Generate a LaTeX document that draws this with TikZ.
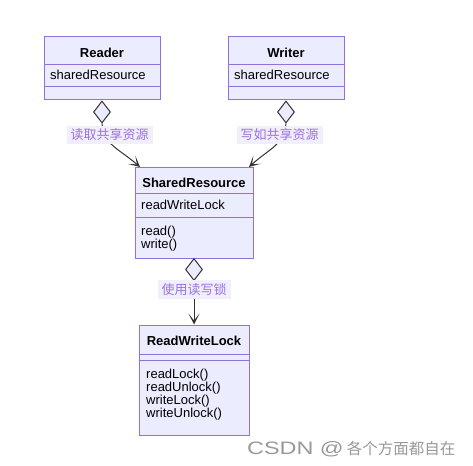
\documentclass[tikz,border=0pt]{standalone}
\usepackage{fontspec}
\setmainfont{Liberation Sans}
\newfontfamily\cjk{Noto Sans CJK SC}
\usetikzlibrary{shapes.geometric,arrows.meta,calc}
\definecolor{boxfill}{HTML}{ECECFF}
\definecolor{boxline}{HTML}{9370DB}
\definecolor{edgeline}{HTML}{333333}
\definecolor{lblfill}{HTML}{F1EFFC}
\definecolor{lbltext}{HTML}{9A73E0}
\begin{document}
\begin{tikzpicture}[x=1pt,y=-1pt,
  umlbox/.style={draw=boxline,fill=boxfill,line width=1pt,inner sep=0pt,minimum width=#1},
  divider/.style={draw=boxline,line width=1pt},
  title/.style={font=\fontsize{13}{14}\selectfont\bfseries,inner sep=0pt,text=black},
  member/.style={font=\fontsize{13}{13}\selectfont,inner sep=0pt,anchor=west,align=left,text=black},
  agg/.style={shape=diamond,draw=edgeline,fill=boxfill,line width=1pt,inner sep=0pt,minimum width=17pt,minimum height=22pt},
  conn/.style={draw=edgeline,line width=1pt,-{Stealth[length=11pt,width=11pt,inset=7pt]}},
  elabel/.style={fill=lblfill,text=lbltext,font=\cjk\fontsize{13}{14}\selectfont,inner xsep=4pt,inner ysep=3pt}
]
\useasboundingbox (0,0) rectangle (473,465);
\fill[white] (0,0) rectangle (473,465);

% Reader
\node[umlbox=116pt,minimum height=63pt] (reader) at (102,68.5) {};
\draw[divider] (44,65) -- (160,65);
\draw[divider] (44,87) -- (160,87);
\node[title] (readerT) at (102,52.5) {Reader};
\node[member] (readerA) at (50,75) {sharedResource};

% Writer
\node[umlbox=116pt,minimum height=63pt] (writer) at (286,68.5) {};
\draw[divider] (228,65) -- (344,65);
\draw[divider] (228,87) -- (344,87);
\node[title] (writerT) at (286,52.5) {Writer};
\node[member] (writerA) at (234,75) {sharedResource};

% SharedResource
\node[umlbox=118pt,minimum height=91pt] (sr) at (194,212.5) {};
\draw[divider] (135,193) -- (253,193);
\draw[divider] (135,217) -- (253,217);
\node[title] (srT) at (194,183) {SharedResource};
\node[member] (srA) at (141,204.5) {readWriteLock};
\node[member] (srM) at (141,238.5) {read()\\write()};

% ReadWriteLock
\node[umlbox=110pt,minimum height=110pt] (rwl) at (194,380) {};
\draw[divider] (139,354) -- (249,354);
\draw[divider] (139,360) -- (249,360);
\node[title] (rwlT) at (194,341) {ReadWriteLock};
\node[member] (rwlM) at (146,395) {readLock()\\readUnlock()\\writeLock()\\writeUnlock()};

% Diamonds
\node[agg] (d1) at (102,112) {};
\node[agg] (d2) at (286,112) {};
\node[agg] (d3) at (194,269.5) {};

\coordinate (e1) at (140,167);
\coordinate (e2) at (249,167);

\draw[conn] (d1.south) .. controls (104,145) and (118,148) .. (e1);
\draw[conn] (d2.south) .. controls (284,145) and (270,148) .. (e2);
\draw[conn] (d3.south) -- (rwl.north);

\node[elabel] (l1) at (109.5,135) {读取共享资源};
\node[elabel] (l2) at (279.5,135) {写如共享资源};
\node[elabel] (l3) at (194,289.5) {使用读写锁};

% watermark
\node[inner sep=0pt,anchor=west,text=black!40] (wm) at (247,449)
  {\scalebox{1.3}[1]{\fontsize{18}{20}\selectfont CSDN @}\hspace{3pt}\cjk\fontsize{15.5}{18}\selectfont 各个方面都自在};
\end{tikzpicture}
\end{document}
